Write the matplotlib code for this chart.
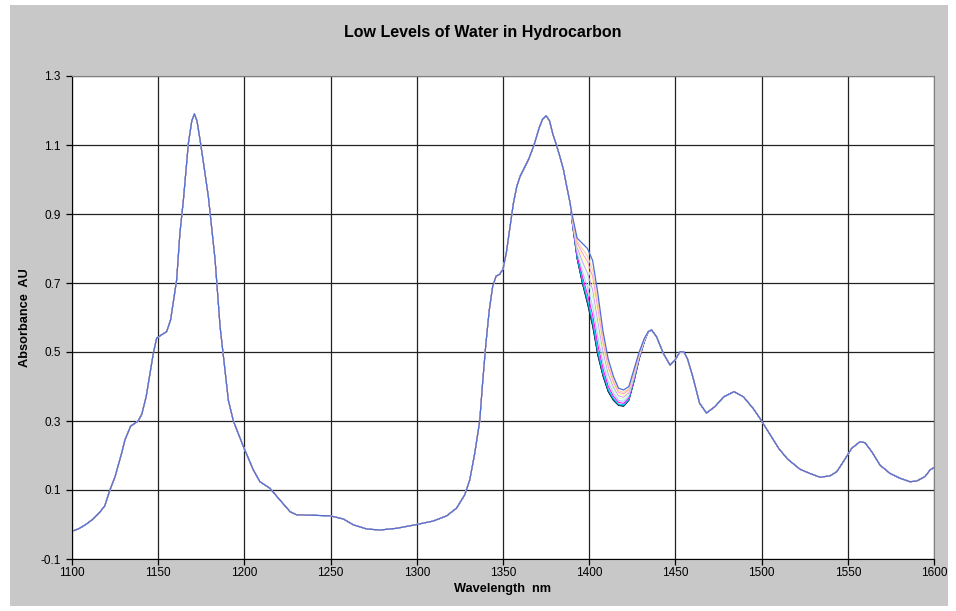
import numpy as np
import matplotlib.pyplot as plt
from matplotlib.patches import Rectangle

plt.rcParams['font.family'] = ['Liberation Sans', 'DejaVu Sans']

# spectrum where all samples overlap
wl_lo = [1100, 1104, 1108, 1112, 1116, 1119, 1122, 1125, 1128.8, 1130.7, 1134, 1138.4,
         1140.5, 1143, 1147.2, 1149.1, 1152, 1154.9, 1157.2, 1160.7, 1162.6, 1164.6,
         1167.5, 1169.5, 1171, 1172.5, 1174.3, 1176.5, 1179.1, 1183, 1185.9, 1190.7,
         1193.6, 1199.4, 1205.2, 1209, 1214.8, 1220.6, 1226.5, 1230.3, 1238, 1250,
         1257.4, 1263.2, 1271, 1278.6, 1288.3, 1299, 1309.5, 1317.3, 1323, 1327.8,
         1330.7, 1333.6, 1336.5, 1338, 1340, 1342, 1344, 1346, 1348, 1350, 1352, 1354,
         1356, 1358, 1360, 1362, 1365, 1368, 1371, 1373, 1375, 1377, 1379, 1381, 1383,
         1385, 1387, 1389]
abs_lo = [-0.02, -0.012, 0.0, 0.015, 0.035, 0.054, 0.1, 0.139, 0.207, 0.245, 0.285, 0.30,
          0.32, 0.37, 0.497, 0.54, 0.55, 0.559, 0.593, 0.709, 0.845, 0.94,
          1.105, 1.17, 1.19, 1.17, 1.114, 1.04, 0.95, 0.767, 0.573, 0.36,
          0.30, 0.226, 0.158, 0.124, 0.105, 0.071, 0.037, 0.028, 0.027, 0.025,
          0.016, -0.001, -0.013, -0.016, -0.011, -0.001, 0.01, 0.025, 0.047, 0.086,
          0.129, 0.206, 0.30, 0.40, 0.52, 0.62, 0.69, 0.72, 0.725, 0.74, 0.79, 0.86,
          0.93, 0.98, 1.01, 1.03, 1.06, 1.10, 1.15, 1.175, 1.185, 1.17, 1.13, 1.10, 1.066,
          1.03, 0.979, 0.93]

wl_hi = [1434.3, 1436.2, 1439.1, 1443, 1446.9, 1449.8, 1452.7, 1455, 1457, 1460, 1464,
         1468, 1473, 1478, 1484, 1489.5, 1495, 1499, 1505, 1510, 1515, 1522.3, 1528,
         1533.9, 1539.7, 1543.6, 1547.4, 1552.3, 1557.1, 1560, 1563.9, 1568.7, 1574.5,
         1580.3, 1586.1, 1590, 1594.8, 1597.7, 1600]
abs_hi = [0.559, 0.564, 0.544, 0.496, 0.462, 0.477, 0.501, 0.50, 0.48, 0.43, 0.352,
          0.323, 0.342, 0.37, 0.385, 0.37, 0.337, 0.308, 0.26, 0.22, 0.19, 0.16, 0.148,
          0.137, 0.141, 0.153, 0.182, 0.221, 0.24, 0.237, 0.211, 0.172, 0.148,
          0.134, 0.124, 0.126, 0.139, 0.158, 0.165]

# water band region, one row per sample (driest first)
wl_wet = [1390, 1393, 1396, 1399, 1402, 1405, 1408, 1411, 1414, 1417, 1420, 1423, 1426, 1429, 1432]
abs_wet = [
    [0.880, 0.770, 0.700, 0.640, 0.575, 0.490, 0.430, 0.385, 0.360, 0.345, 0.343, 0.360, 0.415, 0.480, 0.530],
    [0.880, 0.771, 0.701, 0.642, 0.577, 0.492, 0.431, 0.386, 0.361, 0.346, 0.343, 0.360, 0.415, 0.480, 0.530],
    [0.881, 0.772, 0.703, 0.645, 0.581, 0.495, 0.434, 0.388, 0.362, 0.347, 0.344, 0.361, 0.416, 0.481, 0.530],
    [0.882, 0.775, 0.709, 0.653, 0.590, 0.504, 0.440, 0.393, 0.366, 0.349, 0.347, 0.363, 0.418, 0.482, 0.531],
    [0.883, 0.780, 0.720, 0.667, 0.607, 0.521, 0.452, 0.401, 0.372, 0.354, 0.351, 0.367, 0.421, 0.483, 0.532],
    [0.886, 0.788, 0.735, 0.688, 0.632, 0.544, 0.469, 0.414, 0.381, 0.360, 0.357, 0.372, 0.426, 0.486, 0.533],
    [0.889, 0.796, 0.749, 0.709, 0.657, 0.567, 0.486, 0.426, 0.390, 0.367, 0.363, 0.377, 0.430, 0.489, 0.534],
    [0.891, 0.803, 0.763, 0.728, 0.680, 0.589, 0.502, 0.437, 0.399, 0.373, 0.369, 0.382, 0.434, 0.491, 0.536],
    [0.893, 0.810, 0.776, 0.746, 0.700, 0.609, 0.516, 0.448, 0.406, 0.378, 0.374, 0.386, 0.438, 0.493, 0.537],
    [0.895, 0.816, 0.787, 0.762, 0.719, 0.627, 0.529, 0.457, 0.413, 0.383, 0.379, 0.390, 0.442, 0.495, 0.538],
    [0.897, 0.822, 0.799, 0.778, 0.738, 0.645, 0.542, 0.467, 0.420, 0.388, 0.383, 0.394, 0.445, 0.497, 0.539],
    [0.900, 0.830, 0.815, 0.800, 0.765, 0.670, 0.560, 0.480, 0.430, 0.395, 0.390, 0.400, 0.450, 0.500, 0.540],
]

colors = ['#000080', '#222222', '#008080', '#00CCFF', '#FF00FF', '#99CCFF',
          '#CCFFCC', '#CC99FF', '#FFFF99', '#FF99CC', '#FFCC99', '#4F6FD6']

xticks = [1100, 1150, 1200, 1250, 1300, 1350, 1400, 1450, 1500, 1550, 1600]
yticks = [-0.1, 0.1, 0.3, 0.5, 0.7, 0.9, 1.1, 1.3]

fig = plt.figure(figsize=(9.56, 6.11), dpi=100, facecolor='white')
fig.patches.append(Rectangle((10 / 956, 5 / 611), 938 / 956, 601 / 611,
                             transform=fig.transFigure, facecolor='#C8C8C8',
                             edgecolor='none', zorder=-10))

ax = fig.add_axes([72 / 956, 1 - 559 / 611, 862 / 956, 483 / 611])
ax.set_zorder(5)
ax.set_facecolor('white')

wl_all = np.array(wl_lo + wl_wet + wl_hi)
for i, (row, c) in enumerate(zip(abs_wet, colors)):
    y = np.array(abs_lo + row + abs_hi)
    ax.plot(wl_all, y, color=c, lw=0.9 if i == len(colors) - 1 else 0.7)

ax.set_xlim(1100, 1600)
ax.set_ylim(-0.1, 1.3)
ax.set_xticks(xticks)
ax.set_yticks(yticks)
ax.set_yticklabels([f'{v:.1f}' for v in yticks])
ax.grid(True, color='#222222', lw=0.9)
ax.set_axisbelow(True)
ax.tick_params(direction='out', length=4, width=0.9, labelsize=8.5, colors='black')
ax.tick_params(axis='x', pad=2)
ax.tick_params(axis='y', pad=4)

for s in ['top', 'right']:
    ax.spines[s].set_color('#808080')
for s in ['left', 'bottom']:
    ax.spines[s].set_color('black')

ax.set_xlabel('Wavelength  nm', fontsize=9.2, fontweight='bold')
ax.set_ylabel('Absorbance  AU', fontsize=9.2, fontweight='bold')
ax.xaxis.set_label_coords(0.5, (559 - 583) / 483)
ax.yaxis.set_label_coords((31 - 72) / 862, 0.5)

fig.text(0.505, 1 - 32 / 611, 'Low Levels of Water in Hydrocarbon',
         ha='center', va='center', fontsize=11.5, fontweight='bold')

fig.savefig('out.png', dpi=100, facecolor=fig.get_facecolor())
